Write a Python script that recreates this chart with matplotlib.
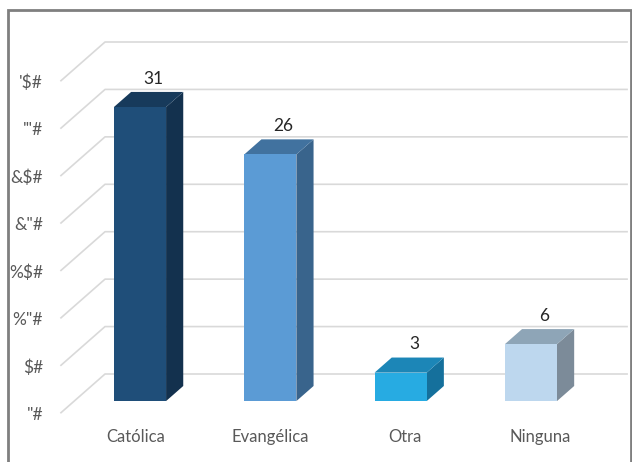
import matplotlib.pyplot as plt
from matplotlib.patches import Polygon, Rectangle

categories = ['Católica', 'Evangélica', 'Otra', 'Ninguna']
values = [31, 26, 3, 6]
tick_values = [0, 5, 10, 15, 20, 25, 30, 35]
tick_labels = ['"#', '$#', '%"#', '%$#', '&"#', '&$#', '\'"#', '\'$#']

front_colors = ['#1F4E79', '#5B9BD5', '#27ABE2', '#BDD7EE']
top_colors = ['#173A5B', '#41729F', '#1C86B7', '#8EA5B7']
side_colors = ['#13314E', '#39648C', '#15709C', '#7C8B99']

plt.rcParams['font.family'] = ['Lato', 'DejaVu Sans']

# oblique "3D" projection: depth d runs from 0 (front) to 1 (back wall)
depth_x = 0.338   # in category units
depth_y = 4.08    # in value units
bar_w = 0.4
d_front, d_back = 0.30, 0.69


def proj(x, y, d):
    return (x + d * depth_x, y + d * depth_y)


fig = plt.figure(figsize=(6.32, 4.62), dpi=100)
ax = fig.add_axes([0, 0, 1, 1])
ax.set_xlim(-0.973, 3.877)
ax.set_ylim(-5.197, 43.507)
ax.axis('off')

# gridlines: diagonal on the left side wall + horizontal on the back wall
x_left, x_right = -0.505, 3.501
for t, lab in zip(tick_values, tick_labels):
    pts = [proj(x_left, t, 0), proj(x_left, t, 1), proj(x_right, t, 1)]
    ax.plot([p[0] for p in pts], [p[1] for p in pts], color='#D9D9D9', lw=1.2, zorder=1)
    ax.text(-0.643, t - 0.25, lab, ha='right', va='center', fontsize=12.5, color='#595959')

# bars
for i, v in enumerate(values):
    x0, x1 = i - bar_w / 2, i + bar_w / 2
    front = [proj(x0, 0, d_front), proj(x1, 0, d_front), proj(x1, v, d_front), proj(x0, v, d_front)]
    top = [proj(x0, v, d_front), proj(x1, v, d_front), proj(x1, v, d_back), proj(x0, v, d_back)]
    side = [proj(x1, 0, d_front), proj(x1, 0, d_back), proj(x1, v, d_back), proj(x1, v, d_front)]
    ax.add_patch(Polygon(side, closed=True, fc=side_colors[i], ec='none', zorder=3))
    ax.add_patch(Polygon(top, closed=True, fc=top_colors[i], ec='none', zorder=3))
    ax.add_patch(Polygon(front, closed=True, fc=front_colors[i], ec='none', zorder=4))
    lx, ly = proj(i - 0.03, v, d_back)
    ax.annotate(str(v), (lx, ly), xytext=(0, 9.5), textcoords='offset points',
                ha='center', va='center', fontsize=12.5, color='#262626')

# category labels
for i, c in enumerate(categories):
    ax.text(0.067 + 1.0345 * i, -2.6, c, ha='center', va='center', fontsize=12, color='#595959')

# outer frame
fig.patches.append(Rectangle((8 / 632, -0.1), 622.5 / 632, 1.0794, transform=fig.transFigure,
                             fill=False, ec='#7F7F7F', lw=2))

fig.savefig('out.png', dpi=100)
